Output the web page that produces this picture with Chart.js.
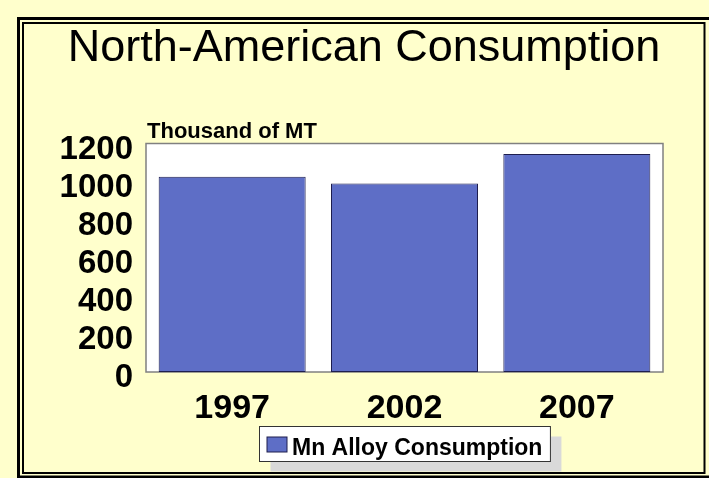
<!DOCTYPE html>
<html><head><meta charset="utf-8">
<script src="https://cdn.jsdelivr.net/npm/chart.js@4/dist/chart.umd.min.js"></script>
<style>html,body{margin:0;padding:0;background:#FFFFCC;overflow:hidden;}</style>
</head><body>
<canvas id="c" width="709" height="478"></canvas>
<script>
const categories = ['1997', '2002', '2007'];
const consumption = [1025, 990, 1145];
const seriesLabel = 'Mn Alloy Consumption';
const titleText = 'North-American Consumption';
const unitText = 'Thousand of MT';
const yTickValues = [0, 200, 400, 600, 800, 1000, 1200];

const FONT = "'Liberation Sans', Arial, sans-serif";
const BAR_FILL = '#5E6EC6';
const BAR_EDGE = '#1E1E4E';

const backgroundPlugin = {
  id: 'bg',
  beforeDraw(chart) {
    const ctx = chart.ctx, a = chart.chartArea;
    ctx.save();
    ctx.fillStyle = '#FFFFCC';
    ctx.fillRect(0, 0, chart.width, chart.height);
    ctx.strokeStyle = '#000';
    ctx.lineWidth = 3;
    ctx.strokeRect(18.5, 18.5, 694, 458.5);
    ctx.lineWidth = 2;
    ctx.strokeRect(23, 23, 681.5, 450);
    ctx.fillStyle = '#FFFFFF';
    ctx.fillRect(a.left, a.top, a.right - a.left, a.bottom - a.top);
    ctx.strokeStyle = '#808080';
    ctx.lineWidth = 1.5;
    ctx.strokeRect(a.left, a.top, a.right - a.left, a.bottom - a.top);
    ctx.restore();
  },
  afterDraw(chart) {
    const ctx = chart.ctx, a = chart.chartArea;
    ctx.save();
    ctx.fillStyle = '#000';
    ctx.font = 'bold 22px ' + FONT;
    ctx.textBaseline = 'alphabetic';
    ctx.textAlign = 'left';
    ctx.fillText(unitText, a.left + 1, a.top - 6);
    const ds = chart.data.datasets[0];
    ctx.font = 'bold 23px ' + FONT;
    const tw = ctx.measureText(ds.label).width;
    const bw = 7.5 + 20 + 5 + tw + 8, bh = 35;
    const cx = (a.left + a.right) / 2;
    const bx = Math.round(cx - bw / 2) + 0.5, by = 426.5;
    ctx.fillStyle = '#D9D9D9';
    ctx.fillRect(bx + 11, by + 10, bw, bh);
    ctx.fillStyle = '#FFFFFF';
    ctx.fillRect(bx, by, bw, bh);
    ctx.strokeStyle = '#333';
    ctx.lineWidth = 1;
    ctx.strokeRect(bx, by, bw, bh);
    ctx.fillStyle = ds.backgroundColor;
    ctx.fillRect(bx + 7.5, by + 10.5, 20, 15);
    ctx.strokeStyle = ds.borderColor;
    ctx.strokeRect(bx + 7.5, by + 10.5, 20, 15);
    ctx.fillStyle = '#000';
    ctx.fillText(ds.label, bx + 32.5, by + 28.5);
    ctx.restore();
  }
};

new Chart(document.getElementById('c'), {
  type: 'bar',
  data: {
    labels: categories,
    datasets: [{
      label: seriesLabel,
      data: consumption,
      backgroundColor: BAR_FILL,
      borderColor: BAR_EDGE,
      borderWidth: 1,
      borderSkipped: false,
      categoryPercentage: 1.0,
      barPercentage: 0.853
    }]
  },
  options: {
    responsive: false,
    animation: false,
    layout: { padding: { left: 40, right: 21, top: 0, bottom: 0 } },
    plugins: {
      legend: { display: false },
      tooltip: { enabled: false },
      title: {
        display: true,
        text: titleText,
        color: '#000',
        font: { family: FONT, size: 45, weight: 'normal', lineHeight: 1.2 },
        padding: { top: 22, bottom: 67.5 }
      }
    },
    scales: {
      x: {
        grid: { display: false, drawTicks: false },
        border: { display: false },
        ticks: { color: '#000', padding: 16, font: { family: FONT, size: 34, weight: 'bold' } },
        afterFit(s) { s.height = 106; }
      },
      y: {
        min: yTickValues[0], max: yTickValues[yTickValues.length - 1],
        grid: { display: false, drawTicks: false },
        border: { display: false },
        afterBuildTicks(s) { s.ticks = yTickValues.map(v => ({ value: v })); },
        ticks: { autoSkip: false, color: '#000', padding: 13, labelOffset: 6.2,
                 callback: v => String(v),
                 font: { family: FONT, size: 33, weight: 'bold' } },
        afterFit(s) { s.width = 106; }
      },
      yPad: {
        position: 'right',
        display: true,
        grid: { display: false, drawTicks: false },
        border: { display: false },
        ticks: { display: false },
        afterFit(s) { s.width = 25; }
      }
    }
  },
  plugins: [backgroundPlugin]
});
</script>
</body></html>
